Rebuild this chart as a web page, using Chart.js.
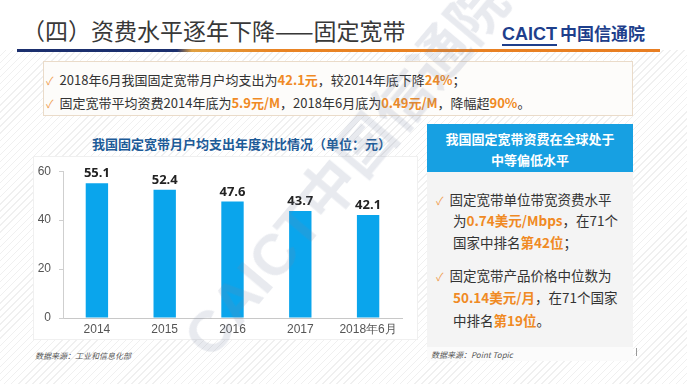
<!DOCTYPE html>
<html>
<head>
<meta charset="utf-8">
<script src="https://cdn.jsdelivr.net/npm/chart.js@4"></script>
<style>
  html, body { margin: 0; padding: 0; }
  body {
    width: 687px; height: 384px; overflow: hidden; position: relative;
    font-family: "Open Sans", "Noto Sans CJK SC", sans-serif;
    background: repeating-linear-gradient(135deg, #ffffff 0 4px, #f0f0f0 4px 5px);
  }
  .abs { position: absolute; }
  .head { left: 0; top: 0; width: 687px; height: 50px; background: #fff; }
  .title { left: 22px; top: 13px; font-size: 23px; color: #383838; font-family: "Noto Sans CJK SC", sans-serif; white-space: nowrap; }
  .logo { left: 502px; top: 20px; font-weight: bold; color: #1e3f8c; white-space: nowrap; font-family: "Noto Sans CJK SC", sans-serif; }
  .logo .en { font-family: "Liberation Sans", sans-serif; font-size: 18px; border-bottom: 2px solid #1e3f8c; }
  .logo .cn { font-size: 17px; margin-left: 3px; }
  .rule { left: 17px; top: 49px; height: 3px; width: 643px;
    background: linear-gradient(90deg, #1b2f6e 0, #1b2f6e 160px, #e0a040 175px, #e98424 260px, #e87e22 100%); }
  .box { left: 43px; top: 61px; width: 588px; height: 53px; background: #fdfcfa; border: 1px solid #eadbc9; }
  .line { font-size: 13px; color: #333; white-space: nowrap; font-family: "Noto Sans CJK SC", sans-serif; }
  .ck { color: #f0a050; margin-right: 6px; font-size: 11px; }
  .or { color: #f08a24; font-weight: bold; }
  .ctitle { left: 92px; top: 134px; font-size: 13px; font-weight: bold; color: #1d5b98; white-space: nowrap; font-family: "Noto Sans CJK SC", sans-serif; }
  .cbox { left: 33px; top: 156px; width: 385px; height: 184px; background: #fff; border: 1px solid #f0f0f0; box-sizing: border-box; }
  .src { font-size: 8px; font-style: italic; color: #555; white-space: nowrap; font-family: "Noto Sans CJK SC", sans-serif; }
  .phead { left: 427px; top: 124px; width: 206px; height: 48px; background: #17a0e2; color: #fff; font-weight: bold; font-size: 13px; text-align: center; line-height: 21px; padding-top: 4px; box-sizing: border-box; font-family: "Noto Sans CJK SC", sans-serif; }
  .pbody { left: 427px; top: 172px; width: 206px; height: 175px; background: #f4f4f4; }
  .pfoot { left: 427px; top: 347px; width: 206px; height: 14px; background: #fbfbfb; }
  .pt { font-size: 13.5px; color: #333; line-height: 22px; font-family: "Noto Sans CJK SC", sans-serif; white-space: nowrap; }
  .wm { left: 196px; top: 318px; font-size: 58px; line-height: 60px; font-weight: bold; color: rgba(120,130,160,0.17); white-space: nowrap;
    transform: rotate(-50deg); transform-origin: 0 50%; font-family: "Liberation Sans", "Noto Sans CJK SC", sans-serif; pointer-events: none; }
</style>
</head>
<body>
<div class="abs head"></div>
<div class="abs title">（四）资费水平逐年下降——固定宽带</div>
<div class="abs logo"><span class="en">CAICT</span><span class="cn">中国信通院</span></div>
<div class="abs rule"></div>

<div class="abs box"></div>
<div class="abs line" style="left:46px;top:70px;"><span class="ck">✓</span>2018年6月我国固定宽带月户均支出为<span class="or">42.1元</span>，较2014年底下降<span class="or">24%</span>；</div>
<div class="abs line" style="left:46px;top:93px;"><span class="ck">✓</span>固定宽带平均资费2014年底为<span class="or">5.9元/M</span>，2018年6月底为<span class="or">0.49元/M</span>，降幅超<span class="or">90%</span>。</div>

<div class="abs ctitle">我国固定宽带月户均支出年度对比情况（单位：元）</div>
<div class="abs cbox"></div>
<div class="abs" style="left:33px;top:156px;width:385px;height:184px;"><canvas id="spendChart"></canvas></div>
<div class="abs src" style="left:35px;top:350px;">数据来源：工业和信息化部</div>

<div class="abs phead">我国固定宽带资费在全球处于<br>中等偏低水平</div>
<div class="abs pbody"></div>
<div class="abs pfoot"></div>
<div class="abs pt" style="left:436px;top:188px;"><span class="ck">✓</span>固定宽带单位带宽资费水平</div>
<div class="abs pt" style="left:453px;top:209px;">为<span class="or">0.74美元/Mbps</span>，在71个</div>
<div class="abs pt" style="left:453px;top:231px;">国家中排名<span class="or">第42位</span>；</div>
<div class="abs pt" style="left:436px;top:264px;"><span class="ck">✓</span>固定宽带产品价格中位数为</div>
<div class="abs pt" style="left:453px;top:286px;"><span class="or">50.14美元/月</span>，在71个国家</div>
<div class="abs pt" style="left:453px;top:309px;">中排名<span class="or">第19位</span>。</div>
<div class="abs src" style="left:431px;top:349px;">数据来源：Point Topic</div>
<div class="abs" style="left:636px;top:348px;width:1px;height:8px;background:#999;"></div>

<div class="abs wm">CAICT中国信通院</div>

<script>
// data
const categories = ['2014', '2015', '2016', '2017', '2018年6月'];
const spending = [55.1, 52.4, 47.6, 43.7, 42.1];
const yTicks = [0, 20, 40, 60];

// value labels above bars
const valueLabels = {
    id: 'valueLabels',
    afterDatasetsDraw(chart) {
        const ctx = chart.ctx;
        const meta = chart.getDatasetMeta(0);
        ctx.save();
        ctx.font = 'bold 13px "Open Sans", sans-serif';
        ctx.fillStyle = '#222';
        ctx.textAlign = 'center';
        ctx.textBaseline = 'bottom';
        meta.data.forEach((bar, i) => {
            ctx.fillText(spending[i].toFixed(1), bar.x, bar.y - 3);
        });
        ctx.restore();
    }
};

const ctx = document.getElementById('spendChart').getContext('2d');
new Chart(ctx, {
    type: 'bar',
    data: {
        labels: categories,
        datasets: [{
            data: spending,
            backgroundColor: '#0aa5ec',
            barPercentage: 0.33,
            categoryPercentage: 1
        }]
    },
    options: {
        responsive: true,
        maintainAspectRatio: false,
        animation: false,
        layout: { padding: { top: 15, right: 16, left: 0, bottom: 0 } },
        plugins: {
            legend: { display: false },
            tooltip: { enabled: false }
        },
        scales: {
            x: {
                grid: { display: false, drawTicks: false },
                border: { color: '#c8c8c8' },
                ticks: { color: '#555', font: { size: 12 }, padding: 4 },
                afterFit(scale) { scale.height = 22; }
            },
            y: {
                min: 0,
                max: 60,
                afterBuildTicks(scale) { scale.ticks = yTicks.map(v => ({ value: v })); },
                grid: { drawOnChartArea: false, tickLength: 4, color: '#cfcfcf' },
                border: { color: '#cfcfcf' },
                ticks: { color: '#555', font: { size: 12 }, padding: 8 },
                afterFit(scale) { scale.width = 30; }
            }
        }
    },
    plugins: [valueLabels]
});
</script>
</body>
</html>
